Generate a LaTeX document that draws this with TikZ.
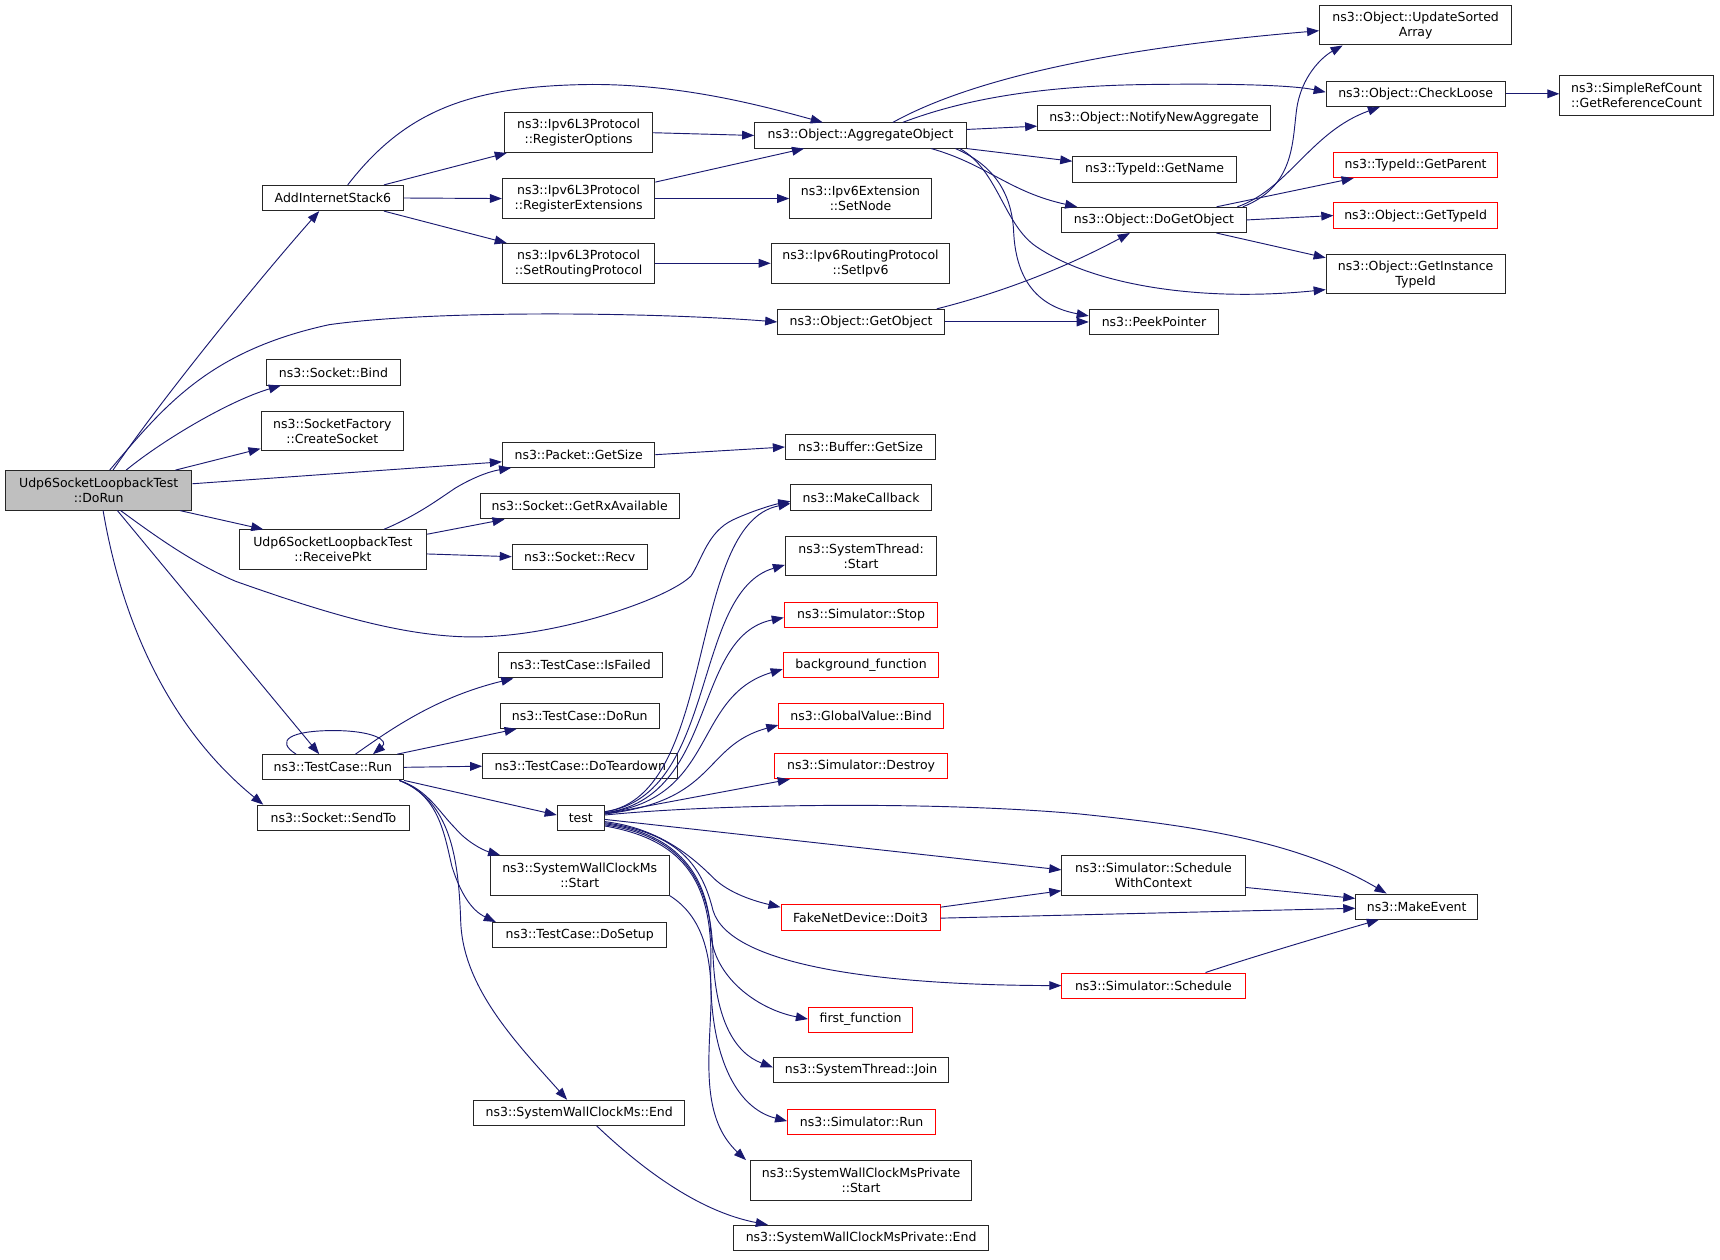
\documentclass[tikz,border=0pt]{standalone}
\usepackage{fontspec}
\setmainfont{DejaVu Sans}
\usetikzlibrary{arrows.meta}
\definecolor{edgec}{HTML}{191970}
\definecolor{boxred}{HTML}{FF0000}
\definecolor{boxgray}{HTML}{BFBFBF}
\newcommand\fnfont{\fontsize{11.4}{13.5}\selectfont}
\tikzset{
  fn/.style={draw=black!85, line width=0.9pt, fill=white, inner sep=0pt, align=center, font=\fnfont},
  fnred/.style={fn, draw=boxred},
  ed/.style={draw=edgec, line width=0.85pt, -{Triangle[length=11pt,width=8pt]}},
}
\begin{document}
\begin{tikzpicture}[x=1pt,y=-1pt]
\useasboundingbox (0,0) rectangle (1568,1148);
% column 0
\node[fn, fill=boxgray, minimum width=170pt, minimum height=36pt] (dorun) at (90,447) {Udp6SocketLoopbackTest\\::DoRun};
% column 1
\node[fn, minimum width=129pt, minimum height=23pt] (ais6) at (303.5,180.5) {AddInternetStack6};
\node[fn, minimum width=122pt, minimum height=23pt] (sbind) at (304,339.5) {ns3::Socket::Bind};
\node[fn, minimum width=130pt, minimum height=36pt] (csock) at (303,393) {ns3::SocketFactory\\::CreateSocket};
\node[fn, minimum width=171pt, minimum height=36pt] (rpkt) at (303.5,501) {Udp6SocketLoopbackTest\\::ReceivePkt};
\node[fn, minimum width=129pt, minimum height=23pt] (tcrun) at (303.5,699.5) {ns3::TestCase::Run};
\node[fn, minimum width=138pt, minimum height=23pt] (sendto) at (304,745.5) {ns3::Socket::SendTo};
% column 2
\node[fn, minimum width=135pt, minimum height=36pt] (regopt) at (527.5,121) {ns3::Ipv6L3Protocol\\::RegisterOptions};
\node[fn, minimum width=139pt, minimum height=36pt] (regext) at (527.5,181) {ns3::Ipv6L3Protocol\\::RegisterExtensions};
\node[fn, minimum width=139pt, minimum height=36pt] (setrp) at (527.5,240) {ns3::Ipv6L3Protocol\\::SetRoutingProtocol};
\node[fn, minimum width=139pt, minimum height=23pt] (pgsize) at (527.5,414.5) {ns3::Packet::GetSize};
\node[fn, minimum width=181pt, minimum height=23pt] (rxavail) at (528.5,461.5) {ns3::Socket::GetRxAvailable};
\node[fn, minimum width=123pt, minimum height=23pt] (recv) at (528.5,507.5) {ns3::Socket::Recv};
\node[fn, minimum width=150pt, minimum height=23pt] (isfailed) at (529,606.5) {ns3::TestCase::IsFailed};
\node[fn, minimum width=145pt, minimum height=23pt] (tcdorun) at (528.5,652.5) {ns3::TestCase::DoRun};
\node[fn, minimum width=178pt, minimum height=23pt] (teardown) at (529,698.5) {ns3::TestCase::DoTeardown};
\node[fn, minimum width=43pt, minimum height=23pt] (test) at (529.5,745.5) {test};
\node[fn, minimum width=163pt, minimum height=36pt] (swstart) at (528.5,798) {ns3::SystemWallClockMs\\::Start};
\node[fn, minimum width=159pt, minimum height=23pt] (setup) at (528.5,852.5) {ns3::TestCase::DoSetup};
\node[fn, minimum width=192pt, minimum height=23pt] (swend) at (528,1014.5) {ns3::SystemWallClockMs::End};
% column 3
\node[fn, minimum width=193pt, minimum height=23pt] (aggobj) at (784.5,123.5) {ns3::Object::AggregateObject};
\node[fn, minimum width=129pt, minimum height=36pt] (extnode) at (784.5,181) {ns3::Ipv6Extension\\::SetNode};
\node[fn, minimum width=163pt, minimum height=36pt] (rpipv6) at (784.5,240) {ns3::Ipv6RoutingProtocol\\::SetIpv6};
\node[fn, minimum width=152pt, minimum height=23pt] (getobj) at (785,293.5) {ns3::Object::GetObject};
\node[fn, minimum width=137pt, minimum height=23pt] (bgsize) at (784.5,407.5) {ns3::Buffer::GetSize};
\node[fn, minimum width=128pt, minimum height=23pt] (mkcb) at (785,453.5) {ns3::MakeCallback};
\node[fn, minimum width=138pt, minimum height=36pt] (ststart) at (785,507) {ns3::SystemThread:\\:Start};
\node[fnred, minimum width=140pt, minimum height=23pt] (simstop) at (785,560.5) {ns3::Simulator::Stop};
\node[fnred, minimum width=142pt, minimum height=23pt] (bgfunc) at (785,606.5) {background\_function};
\node[fnred, minimum width=150pt, minimum height=23pt] (gvbind) at (785,652.5) {ns3::GlobalValue::Bind};
\node[fnred, minimum width=158pt, minimum height=23pt] (simdestroy) at (785,698.5) {ns3::Simulator::Destroy};
\node[fnred, minimum width=145pt, minimum height=23pt] (doit3) at (784.5,836.5) {FakeNetDevice::Doit3};
\node[fnred, minimum width=95pt, minimum height=23pt] (firstfn) at (784.5,929.5) {first\_function};
\node[fn, minimum width=160pt, minimum height=23pt] (stjoin) at (785,975.5) {ns3::SystemThread::Join};
\node[fnred, minimum width=135pt, minimum height=23pt] (simrun) at (785.5,1022.5) {ns3::Simulator::Run};
\node[fn, minimum width=202pt, minimum height=36pt] (pvstart) at (785,1076) {ns3::SystemWallClockMsPrivate\\::Start};
\node[fn, minimum width=232pt, minimum height=23pt] (pvend) at (785,1128.5) {ns3::SystemWallClockMsPrivate::End};
% column 4
\node[fn, minimum width=212pt, minimum height=23pt] (notify) at (1052,107.5) {ns3::Object::NotifyNewAggregate};
\node[fn, minimum width=149pt, minimum height=23pt] (getname) at (1052.5,154.5) {ns3::TypeId::GetName};
\node[fn, minimum width=168pt, minimum height=23pt] (dogetobj) at (1052,200.5) {ns3::Object::DoGetObject};
\node[fn, minimum width=118pt, minimum height=23pt] (peek) at (1052,293.5) {ns3::PeekPointer};
\node[fn, minimum width=167pt, minimum height=36pt] (schedwc) at (1051.5,798) {ns3::Simulator::Schedule\\WithContext};
\node[fnred, minimum width=167pt, minimum height=23pt] (sched) at (1051.5,898.5) {ns3::Simulator::Schedule};
% column 5
\node[fn, minimum width=175pt, minimum height=36pt] (usa) at (1290.5,23) {ns3::Object::UpdateSorted\\Array};
\node[fn, minimum width=163pt, minimum height=23pt] (checkloose) at (1290.5,85.5) {ns3::Object::CheckLoose};
\node[fnred, minimum width=149pt, minimum height=23pt] (getparent) at (1290.5,150.5) {ns3::TypeId::GetParent};
\node[fnred, minimum width=149pt, minimum height=23pt] (gettypeid) at (1290.5,196.5) {ns3::Object::GetTypeId};
\node[fn, minimum width=163pt, minimum height=36pt] (gitid) at (1290.5,250) {ns3::Object::GetInstance\\TypeId};
\node[fn, minimum width=111pt, minimum height=23pt] (mkevent) at (1291.5,826.5) {ns3::MakeEvent};
% column 6
\node[fn, minimum width=140pt, minimum height=36pt] (refcount) at (1492,87) {ns3::SimpleRefCount\\::GetReferenceCount};

% ---- edges from DoRun
\draw[ed] (103,0 |- dorun.north) .. controls (150,360) and (240,250) .. (291,0 |- ais6.south);
\draw[ed] (100,0 |- dorun.north) .. controls (150,370) and (190,320) .. (300,296) .. controls (400,282) and (600,285) .. (getobj.west);
\draw[ed] (115,0 |- dorun.north) .. controls (150,400) and (210,365) .. (256,0 |- sbind.south);
\draw[ed] (160,0 |- dorun.north) -- (csock.west |- 0,409);
\draw[ed] (dorun.east |- 0,441) -- (pgsize.west |- 0,421);
\draw[ed] (164,0 |- dorun.south) -- (240,0 |- rpkt.north);
\draw[ed] (110,0 |- dorun.south) .. controls (150,495) and (180,515) .. (215,530) .. controls (300,560) and (380,585) .. (450,580) .. controls (520,576) and (610,545) .. (630,525) .. controls (640,510) and (645,485) .. (668,474) .. controls (685,466) and (705,460) .. (mkcb.west |- 0,457);
\draw[ed] (107,0 |- dorun.south) -- (291,0 |- tcrun.north);
\draw[ed] (94,0 |- dorun.south) .. controls (110,560) and (150,660) .. (240,0 |- sendto.north);

% ---- AddInternetStack6
\draw[ed] (317,0 |- ais6.north) .. controls (370,100) and (430,78) .. (540,77) .. controls (620,77) and (690,95) .. (750,0 |- aggobj.north);
\draw[ed] (350,0 |- ais6.north) -- (462,0 |- regopt.south);
\draw[ed] (ais6.east) -- (regext.west);
\draw[ed] (350,0 |- ais6.south) -- (462,0 |- setrp.north);
\draw[ed] (regopt.east) -- (aggobj.west);
\draw[ed] (regext.east |- 0,166) -- (733,0 |- aggobj.south);
\draw[ed] (regext.east) -- (extnode.west);
\draw[ed] (setrp.east) -- (rpipv6.west);

% ---- AggregateObject
\draw[ed] (814,0 |- aggobj.north) .. controls (880,75) and (1000,45) .. (usa.west |- 0,28);
\draw[ed] (823,0 |- aggobj.north) .. controls (880,90) and (950,78) .. (1050,77) .. controls (1130,76) and (1180,78) .. (checkloose.west |- 0,84);
\draw[ed] (aggobj.east |- 0,118) -- (notify.west |- 0,115);
\draw[ed] (aggobj.south east) -- (getname.west |- 0,147);
\draw[ed] (849,0 |- aggobj.south) .. controls (900,150) and (920,175) .. (982,0 |- dogetobj.north);
\draw[ed] (871,0 |- aggobj.south) .. controls (905,150) and (922,175) .. (924,210) .. controls (926,260) and (950,280) .. (peek.west |- 0,288);
\draw[ed] (875,0 |- aggobj.south) .. controls (910,155) and (915,205) .. (945,225) .. controls (1000,262) and (1100,275) .. (gitid.west |- 0,264);

% ---- DoGetObject
\draw[ed] (1133,0 |- dogetobj.north) .. controls (1180,170) and (1178,130) .. (1182,100) .. controls (1186,70) and (1205,52) .. (1224,0 |- usa.south);
\draw[ed] (1128,0 |- dogetobj.north) .. controls (1175,172) and (1195,120) .. (1258,0 |- checkloose.south);
\draw[ed] (1109,0 |- dogetobj.north) -- (1234,0 |- getparent.south);
\draw[ed] (dogetobj.east) -- (gettypeid.west);
\draw[ed] (1109,0 |- dogetobj.south) -- (gitid.west |- 0,235);
\draw[ed] (checkloose.east) -- (refcount.west |- 0,85.5);

% ---- GetObject
\draw[ed] (854,0 |- getobj.north) .. controls (900,270) and (960,250) .. (1030,0 |- dogetobj.south);
\draw[ed] (getobj.east) -- (peek.west);

\draw[ed] (pgsize.east) -- (bgsize.west);

% ---- ReceivePkt
\draw[ed] (350,0 |- rpkt.north) .. controls (380,470) and (400,455) .. (415,445) .. controls (430,436) and (445,430) .. (466,0 |- pgsize.south);
\draw[ed] (rpkt.east |- 0,487) -- (460,0 |- rxavail.south);
\draw[ed] (rpkt.east |- 0,505) -- (recv.west);

% ---- TestCase::Run
\draw[ed] (270,0 |- tcrun.north) .. controls (250,675) and (265,666) .. (304,666) .. controls (340,666) and (355,675) .. (340,0 |- tcrun.north);
\draw[ed] (324,0 |- tcrun.north) .. controls (360,662) and (400,635) .. (468,0 |- isfailed.south);
\draw[ed] (362,0 |- tcrun.north) -- (471,0 |- tcdorun.south);
\draw[ed] (tcrun.east) -- (teardown.west);
\draw[ed] (tcrun.south east) -- (test.west |- 0,743);
\draw[ed] (364,0 |- tcrun.south) .. controls (390,720) and (400,740) .. (415,755) .. controls (425,767) and (440,775) .. (456,0 |- swstart.north);
\draw[ed] (364,0 |- tcrun.south) .. controls (400,725) and (405,760) .. (412,790) .. controls (420,815) and (430,830) .. (452,0 |- setup.north);
\draw[ed] (364,0 |- tcrun.south) .. controls (410,730) and (418,780) .. (420,840) .. controls (422,900) and (470,950) .. (517,0 |- swend.north);

\draw[ed] (swstart.south east) .. controls (640,835) and (650,870) .. (648,920) .. controls (646,970) and (640,1020) .. (680,0 |- pvstart.north);
\draw[ed] (544,0 |- swend.south) .. controls (590,1070) and (640,1105) .. (700,0 |- pvend.north);

% ---- test
\draw[ed] (test.east |- 0,740) .. controls (655,725) and (625,478) .. (mkcb.west |- 0,459);
\draw[ed] (test.east |- 0,740) .. controls (655,725) and (630,540) .. (ststart.west |- 0,515);
\draw[ed] (test.east |- 0,741) .. controls (655,727) and (630,580) .. (simstop.west |- 0,563);
\draw[ed] (test.east |- 0,741) .. controls (655,728) and (630,635) .. (bgfunc.west |- 0,610);
\draw[ed] (test.east |- 0,742) .. controls (655,730) and (640,680) .. (gvbind.west |- 0,661);
\draw[ed] (test.east |- 0,742) -- (720,0 |- simdestroy.south);
\draw[ed] (test.east |- 0,743) .. controls (650,733) and (850,730) .. (984,742) .. controls (1080,752) and (1180,765) .. (1264,0 |- mkevent.north);
\draw[ed] (test.east |- 0,747) -- (schedwc.west |- 0,793);
\draw[ed] (test.east |- 0,749) .. controls (600,755) and (630,780) .. (650,800) .. controls (665,815) and (690,822) .. (doit3.west |- 0,827);
\draw[ed] (test.east |- 0,750) .. controls (620,760) and (640,790) .. (650,830) .. controls (665,880) and (800,898) .. (sched.west);
\draw[ed] (test.east |- 0,751) .. controls (620,760) and (645,800) .. (648,850) .. controls (650,890) and (690,920) .. (firstfn.west |- 0,929);
\draw[ed] (test.east |- 0,752) .. controls (620,762) and (648,800) .. (650,870) .. controls (652,930) and (670,960) .. (stjoin.west |- 0,973);
\draw[ed] (test.east |- 0,753) .. controls (620,765) and (650,800) .. (648,880) .. controls (646,960) and (670,1010) .. (simrun.west |- 0,1022);

% ---- Doit3, Schedule
\draw[ed] (doit3.east |- 0,827) -- (schedwc.west |- 0,812);
\draw[ed] (doit3.east |- 0,837) -- (mkevent.west |- 0,828);
\draw[ed] (schedwc.east |- 0,809) -- (mkevent.west |- 0,819);
\draw[ed] (1099,0 |- sched.north) .. controls (1140,873) and (1200,855) .. (1257,0 |- mkevent.south);
\end{tikzpicture}
\end{document}
